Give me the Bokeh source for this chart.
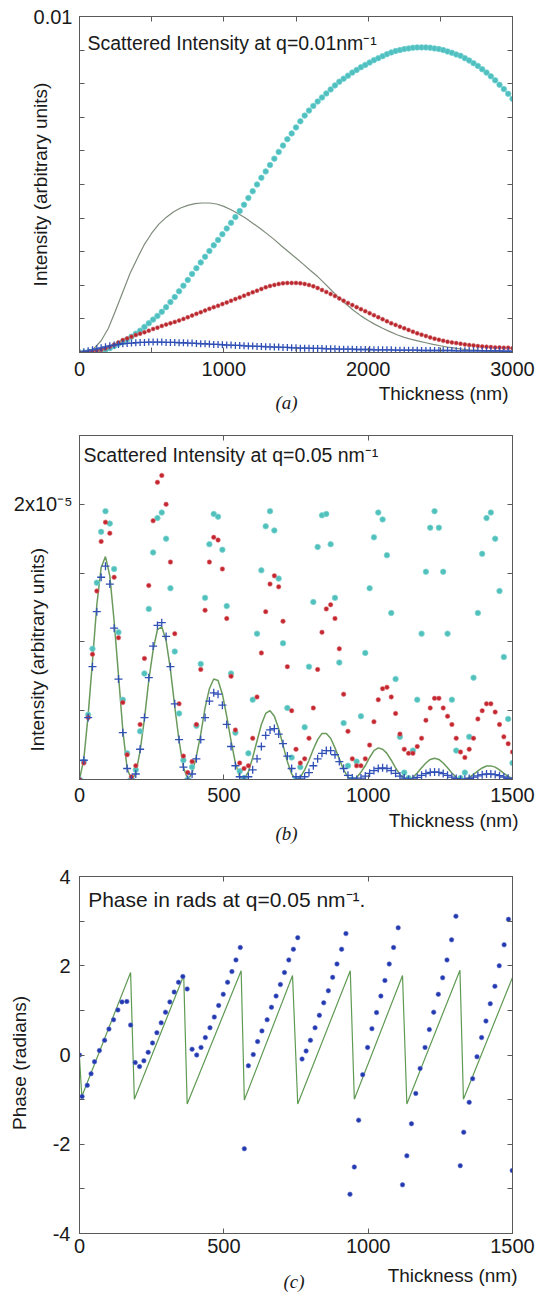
from math import pi
from bokeh.plotting import figure
from bokeh.layouts import column
from bokeh.models import FixedTicker, LinearAxis, Label, Range1d, Title
from bokeh.embed import file_html
from bokeh.resources import INLINE

SANS = "Liberation Sans"
SERIF = "Liberation Serif"
FRAME = "#5a5a5a"
TXT = "#1a1a1a"

# ---------------- panel (a): q = 0.01 nm^-1, intensity in units of 1e-3 ----------------
a_x = list(range(0, 3001, 30))
a_cyan = [0.00, 0.00, 0.01, 0.02, 0.04, 0.06, 0.08, 0.13, 0.19, 0.26,
          0.32, 0.39, 0.47, 0.56, 0.65, 0.76, 0.87, 0.98, 1.09, 1.21,
          1.35, 1.50, 1.65, 1.82, 1.99, 2.16, 2.34, 2.51, 2.68, 2.85,
          3.02, 3.19, 3.35, 3.52, 3.69, 3.86, 4.03, 4.21, 4.40, 4.60,
          4.80, 5.00, 5.20, 5.39, 5.58, 5.77, 5.97, 6.16, 6.35, 6.52,
          6.70, 6.88, 7.05, 7.20, 7.34, 7.47, 7.59, 7.71, 7.83, 7.95,
          8.06, 8.15, 8.24, 8.33, 8.41, 8.49, 8.56, 8.63, 8.70, 8.76,
          8.82, 8.88, 8.93, 8.97, 9.00, 9.03, 9.05, 9.07, 9.08, 9.08,
          9.08, 9.07, 9.05, 9.03, 9.00, 8.96, 8.92, 8.87, 8.83, 8.76,
          8.69, 8.61, 8.53, 8.43, 8.33, 8.22, 8.10, 7.97, 7.84, 7.70,
          7.55]
a_red = [0.00, 0.00, 0.01, 0.03, 0.05, 0.08, 0.12, 0.17, 0.23, 0.30,
         0.37, 0.42, 0.47, 0.52, 0.56, 0.60, 0.65, 0.70, 0.74, 0.79,
         0.83, 0.87, 0.91, 0.95, 1.00, 1.05, 1.10, 1.15, 1.20, 1.25,
         1.30, 1.35, 1.39, 1.44, 1.49, 1.54, 1.59, 1.64, 1.69, 1.74,
         1.79, 1.84, 1.89, 1.94, 1.98, 2.01, 2.04, 2.06, 2.07, 2.07,
         2.07, 2.06, 2.04, 2.01, 1.97, 1.92, 1.86, 1.80, 1.74, 1.68,
         1.61, 1.54, 1.47, 1.41, 1.35, 1.29, 1.23, 1.17, 1.11, 1.05,
         0.99, 0.93, 0.87, 0.82, 0.77, 0.72, 0.67, 0.62, 0.57, 0.53,
         0.49, 0.45, 0.41, 0.38, 0.35, 0.32, 0.30, 0.28, 0.26, 0.24,
         0.22, 0.21, 0.19, 0.18, 0.17, 0.16, 0.15, 0.15, 0.14, 0.14,
         0.13]
a_blue = [0.00, 0.02, 0.05, 0.08, 0.11, 0.14, 0.17, 0.20, 0.22, 0.24,
          0.26, 0.27, 0.28, 0.29, 0.30, 0.30, 0.31, 0.31, 0.31, 0.31,
          0.30, 0.30, 0.30, 0.29, 0.29, 0.28, 0.28, 0.27, 0.26, 0.26,
          0.25, 0.24, 0.24, 0.23, 0.22, 0.22, 0.21, 0.21, 0.20, 0.19,
          0.19, 0.18, 0.18, 0.17, 0.17, 0.16, 0.16, 0.15, 0.15, 0.14,
          0.14, 0.13, 0.13, 0.13, 0.12, 0.12, 0.12, 0.11, 0.11, 0.11,
          0.10, 0.10, 0.10, 0.10, 0.09, 0.09, 0.09, 0.09, 0.08, 0.08,
          0.08, 0.08, 0.08, 0.07, 0.07, 0.07, 0.07, 0.07, 0.07, 0.06,
          0.06, 0.06, 0.06, 0.06, 0.06, 0.06, 0.06, 0.05, 0.05, 0.05,
          0.05, 0.05, 0.05, 0.05, 0.05, 0.05, 0.05, 0.05, 0.04, 0.04,
          0.04]
a_line_x = list(range(0, 3001, 50))
a_line = [0.00, 0.02, 0.12, 0.35, 0.72, 1.25, 1.80, 2.35, 2.80, 3.22,
          3.55, 3.82, 4.02, 4.18, 4.30, 4.38, 4.43, 4.45, 4.45, 4.42,
          4.35, 4.25, 4.13, 4.00, 3.85, 3.70, 3.53, 3.36, 3.17, 2.99,
          2.81, 2.63, 2.44, 2.26, 2.05, 1.83, 1.62, 1.43, 1.25, 1.09,
          0.95, 0.83, 0.72, 0.62, 0.53, 0.45, 0.39, 0.34, 0.29, 0.24,
          0.20, 0.16, 0.13, 0.10, 0.08, 0.07, 0.05, 0.04, 0.04, 0.03,
          0.03]

# ---------------- panel (b): q = 0.05 nm^-1, intensity in units of 1e-5 ----------------
b_x = list(range(0, 1501, 15))
b_green = [0, 0.15, 0.47, 0.86, 1.27, 1.54, 1.62, 1.48, 1.15, 0.76, 0.36, 0.08, 0.0,
           0.04, 0.21, 0.44, 0.72, 0.94, 1.09, 1.11, 1.01, 0.80, 0.53, 0.28, 0.09, 0.0,
           0.045, 0.17, 0.33, 0.52, 0.66, 0.73, 0.72, 0.62, 0.46, 0.28, 0.12, 0.02,
           0.005, 0.055, 0.16, 0.28, 0.40, 0.48, 0.50, 0.46, 0.37, 0.25, 0.13, 0.04, 0.0,
           0.017, 0.07, 0.14, 0.22, 0.29, 0.335, 0.335, 0.30, 0.23, 0.15, 0.07, 0.017, 0.0,
           0.014, 0.053, 0.10, 0.16, 0.21, 0.23, 0.22, 0.19, 0.14, 0.085, 0.037, 0.005,
           0.0, 0.016, 0.047, 0.085, 0.12, 0.146, 0.155, 0.146, 0.12, 0.085, 0.047, 0.016, 0.0,
           0.002, 0.016, 0.037, 0.062, 0.084, 0.098, 0.099, 0.09, 0.07, 0.045, 0.023, 0.006]
b_blue = [0, 0.14, 0.45, 0.82, 1.22, 1.47, 1.55, 1.42, 1.10, 0.73, 0.34, 0.08, 0.0,
          0.04, 0.22, 0.45, 0.74, 0.97, 1.12, 1.14, 1.04, 0.82, 0.55, 0.29, 0.09, 0.0,
          0.04, 0.15, 0.29, 0.45, 0.57, 0.63, 0.62, 0.54, 0.40, 0.24, 0.10, 0.02,
          0.0, 0.02, 0.07, 0.15, 0.24, 0.32, 0.36, 0.37, 0.33, 0.26, 0.17, 0.08, 0.02,
          0.005, 0.02, 0.05, 0.10, 0.15, 0.19, 0.21, 0.21, 0.18, 0.13, 0.08, 0.03, 0.01,
          0.0, 0.01, 0.025, 0.045, 0.065, 0.08, 0.085, 0.08, 0.065, 0.045, 0.025, 0.01,
          0.0, 0.005, 0.015, 0.03, 0.043, 0.052, 0.055, 0.052, 0.043, 0.03, 0.017, 0.007, 0.0,
          0.002, 0.008, 0.017, 0.027, 0.035, 0.04, 0.04, 0.036, 0.028, 0.018, 0.009, 0.003]
b_cyan = [0, 0.13, 0.47, 0.95, 1.43, 1.80, 1.95, 1.86, 1.53, 1.07, 0.58, 0.19, 0.005,
          0.07, 0.35, 0.77, 1.24, 1.65, 1.90, 1.94, 1.75, 1.39, 0.93, 0.48, 0.14, 0.0,
          0.09, 0.39, 0.84, 1.32, 1.71, 1.93, 1.91, 1.67, 1.26, 0.77, 0.34, 0.06,
          0.01, 0.19, 0.58, 1.06, 1.52, 1.84, 1.95, 1.81, 1.46, 0.99, 0.52, 0.16, 0.0,
          0.09, 0.38, 0.82, 1.29, 1.69, 1.92, 1.93, 1.71, 1.32, 0.85, 0.41, 0.10, 0.0,
          0.13, 0.46, 0.92, 1.39, 1.76, 1.94, 1.89, 1.63, 1.21, 0.73, 0.31, 0.05,
          0.01, 0.21, 0.58, 1.06, 1.51, 1.83, 1.95, 1.83, 1.51, 1.06, 0.58, 0.21, 0.01,
          0.05, 0.31, 0.74, 1.21, 1.64, 1.90, 1.94, 1.75, 1.37, 0.89, 0.44, 0.12]
b_red = [0, 0.12, 0.45, 0.91, 1.37, 1.73, 1.87, 1.79, 1.47, 1.03, 0.56, 0.18, 0.02,
         0.10, 0.40, 0.88, 1.41, 1.88, 2.16, 2.21, 2.00, 1.58, 1.06, 0.55, 0.17, 0.05,
         0.13, 0.40, 0.80, 1.23, 1.58, 1.76, 1.74, 1.53, 1.17, 0.75, 0.36, 0.12,
         0.08, 0.10, 0.30, 0.60, 0.92, 1.22, 1.42, 1.48, 1.40, 1.15, 0.82, 0.50, 0.22,
         0.12, 0.15, 0.30, 0.52, 0.80, 1.07, 1.24, 1.27, 1.17, 0.95, 0.62, 0.35, 0.15,
         0.10, 0.10, 0.15, 0.25, 0.42, 0.58, 0.66, 0.67, 0.60, 0.48, 0.33, 0.22,
         0.19, 0.19, 0.24, 0.30, 0.43, 0.52, 0.59, 0.59, 0.52, 0.46, 0.40, 0.30, 0.20,
         0.16, 0.22, 0.30, 0.44, 0.50, 0.55, 0.55, 0.49, 0.40, 0.31, 0.26, 0.20]

# ---------------- panel (c): phase in radians ----------------
c_line_x = [0, 8, 177, 190, 361, 373, 560, 571, 738, 756, 938, 952, 1119, 1134, 1318, 1330, 1500]
c_line = [-0.05, -0.93, 1.85, -0.99, 1.78, -1.10, 1.89, -1.01, 1.78, -1.10, 1.89, -0.99,
          1.78, -1.10, 1.90, -0.99, 1.74]
c_x = [0, 9, 27, 40, 52, 69, 87, 102, 118, 133, 147, 164, 177,
       193, 208, 223, 238, 253, 268, 283, 298, 313, 328, 343, 358, 373,
       390, 406, 421, 436, 452, 467, 482, 498, 513, 528, 542, 557, 571,
       585, 602, 617, 632, 650, 665, 681, 696, 710, 725, 741, 756,
       771, 785, 800, 816, 831, 846, 862, 877, 892, 908, 923, 937, 952, 967, 981,
       998, 1013, 1029, 1044, 1058, 1073, 1088, 1104, 1119, 1134, 1150, 1165, 1180,
       1197, 1212, 1227, 1243, 1258, 1273, 1289, 1304, 1319, 1331, 1350, 1362, 1377,
       1393, 1408, 1423, 1439, 1454, 1471, 1486, 1499]
c_phase = [0.0, -0.93, -0.68, -0.42, -0.15, 0.10, 0.33, 0.58, 0.79, 1.01, 1.19, 1.20, 0.67,
           -0.17, -0.26, -0.13, 0.06, 0.27, 0.50, 0.72, 0.96, 1.19, 1.41, 1.63, 1.76, 1.48,
           0.13, 0.0, 0.17, 0.39, 0.61, 0.85, 1.11, 1.36, 1.63, 1.87, 2.13, 2.41, -2.10,
           -0.24, 0.01, 0.30, 0.54, 0.79, 1.07, 1.32, 1.58, 1.85, 2.13, 2.37, 2.63,
           -0.09, 0.09, 0.33, 0.61, 0.89, 1.17, 1.44, 1.74, 2.04, 2.37, 2.72, -3.12, -2.51, -1.46, -0.44,
           0.17, 0.59, 0.95, 1.32, 1.67, 2.04, 2.41, 2.85, -2.91, -2.26, -1.54, -0.86, -0.30,
           0.17, 0.57, 0.96, 1.36, 1.73, 2.13, 2.58, 3.11, -2.48, -1.73, -1.06, -0.53, -0.04,
           0.39, 0.76, 1.15, 1.54, 2.0, 2.47, 3.04, -2.59]


def base_fig(height, xr, yr, left, right, top, bottom):
    p = figure(width=550, height=height, x_range=Range1d(*xr), y_range=Range1d(*yr),
               output_backend="svg", toolbar_location=None,
               min_border_left=left, min_border_right=right,
               min_border_top=top, min_border_bottom=bottom)
    p.grid.visible = False
    p.outline_line_color = FRAME
    p.background_fill_color = "white"
    p.border_fill_color = "white"
    return p


def style(ax, ticks, minor, labels=True, standoff=8):
    ax.ticker = FixedTicker(ticks=ticks, minor_ticks=minor)
    ax.axis_line_color = FRAME
    ax.major_tick_line_color = FRAME
    ax.minor_tick_line_color = FRAME
    ax.major_tick_in = 5
    ax.major_tick_out = 0
    ax.minor_tick_in = 5
    ax.minor_tick_out = 0
    ax.major_label_text_font = SANS
    if labels:
        ax.major_label_text_color = TXT
        ax.major_label_text_font_size = "20px"
        ax.major_label_standoff = standoff
    else:
        ax.major_label_text_color = None
        ax.major_label_text_font_size = "1px"
        ax.major_label_standoff = 0


def frame_axes(p, xt, xm, yt, ym, xs, ys, yover, ylabel, ylab_standoff):
    style(p.xaxis[0], xt, xm, True, xs)
    style(p.yaxis[0], yt, ym, True, ys)
    yax = p.yaxis[0]
    yax.major_label_overrides = yover
    yax.axis_label = ylabel
    yax.axis_label_text_font = SANS
    yax.axis_label_text_font_size = "19px"
    yax.axis_label_text_font_style = "normal"
    yax.axis_label_text_color = TXT
    yax.axis_label_standoff = ylab_standoff
    top = LinearAxis()
    style(top, xt, xm, False)
    p.add_layout(top, "above")
    right = LinearAxis()
    style(right, yt, ym, False)
    p.add_layout(right, "right")


def inner_text(p, x, y, s, size):
    p.add_layout(Label(x=x, y=y, text=s, text_font=SANS, text_font_size=size,
                       text_color=TXT, text_align="left", text_baseline="alphabetic"))


def captions(p, xlabel_offset, xlabel_standoff, cap, cap_offset, cap_standoff):
    p.add_layout(Title(text="Thickness (nm)", align="right", offset=xlabel_offset,
                       vertical_align="top", standoff=xlabel_standoff,
                       text_font=SANS, text_font_size="19px", text_font_style="normal",
                       text_color=TXT), "below")
    p.add_layout(Title(text=cap, align="left", offset=cap_offset,
                       vertical_align="top", standoff=cap_standoff,
                       text_font=SERIF, text_font_size="19px", text_font_style="italic",
                       text_color=TXT), "below")


# ---- panel a ----
pa = base_fig(420, (0, 3000), (0, 10), 79, 38, 16, 68)
frame_axes(pa, [0, 1000, 2000, 3000], [500, 1500, 2500],
           [10], [1, 2, 3, 4, 5, 6, 7, 8, 9], 9, 7, {10: "0.01"},
           "Intensity (arbitrary units)", -20)
pa.line(a_line_x, a_line, line_color="#7f8c7c", line_width=1.2)
pa.scatter(a_x, a_cyan, size=5.5, marker="circle", fill_color="#4fbfbf", line_color="#6fcfcf",
           line_width=0.8)
pa.scatter(a_x, a_red, size=4, marker="circle", fill_color="#b8262c", line_color="#d06066",
           line_width=0.6)
pa.scatter(a_x, a_blue, size=7, marker="cross", line_color="#2f4fb5", line_width=1.3)
inner_text(pa, 55, 9.226, "Scattered Intensity at q=0.01nm\u207b\u00b9", "19.5px")
captions(pa, 4, 8, "(a)", 196, -36)

# ---- panel b ----
pb = base_fig(440, (0, 1500), (0, 2.5), 79, 34, 15, 81)
frame_axes(pb, [0, 500, 1000, 1500], [],
           [2], [0.5, 1.0, 1.5], 8, 7, {2: "2x10\u207b\u2075"},
           "Intensity (arbitrary units)" + "\u00a0" * 16, -37)
pb.line(b_x, b_green, line_color="#6a9a5c", line_width=1.5)
pb.scatter(b_x, b_cyan, size=5.5, marker="circle", fill_color="#4fc0bb", line_color="#7fd3cf",
           line_width=0.8)
pb.scatter(b_x, b_red, size=4.5, marker="circle", fill_color="#c3262f", line_color="#dc6a70",
           line_width=0.6)
pb.scatter(b_x, b_blue, size=8, marker="cross", line_color="#3050b8", line_width=1.3)
inner_text(pb, 14, 2.355, "Scattered Intensity at q=0.05 nm\u207b\u00b9", "19.5px")
captions(pb, -6, 10, "(b)", 196, -30)

# ---- panel c ----
pc = base_fig(436, (0, 1500), (-4, 4), 71, 22, 16, 62)
frame_axes(pc, [0, 500, 1000, 1500], [],
           [-4, -2, 0, 2, 4], [-3, -1, 1, 3], 5, 9, {-4: "-4", -2: "-2"},
           "Phase (radians)" + "\u00a0" * 3, 20)
pc.line(c_line_x, c_line, line_color="#5e9a52", line_width=1.2)
pc.scatter(c_x, c_phase, size=4.5, marker="circle", fill_color="#2238b0", line_color="#5a6cc8",
           line_width=0.6)
inner_text(pc, 30, 3.486, "Phase in rads at q=0.05 nm\u207b\u00b9.", "21px")
captions(pc, -5, 18, "(c)", 204, -52)

layout = column(pa, pb, pc, spacing=0)
open("out.html", "w").write(file_html(layout, INLINE))
